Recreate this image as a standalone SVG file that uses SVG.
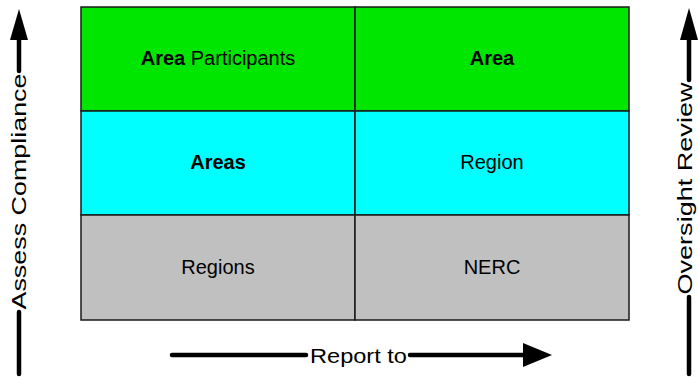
<svg xmlns="http://www.w3.org/2000/svg" width="698" height="377" viewBox="0 0 698 377">
<style>
.cell{stroke:#1a1a1a;stroke-width:1.5}
.t{font-family:"Liberation Sans",Arial,sans-serif;font-size:20px;fill:#000;text-anchor:middle}
.b{font-weight:bold}
.lbl{font-family:"Liberation Sans",Arial,sans-serif;font-size:21px;fill:#000;text-anchor:middle}
.ln{stroke:#000;stroke-width:4.5;stroke-linecap:round;fill:none}
.hd{fill:#000}
</style>
<rect width="698" height="377" fill="#fff"/>
<g id="cell-area-participants"><rect class="cell" x="81" y="7" width="274" height="104" fill="#00E600"/><text class="t" x="218" y="65"><tspan class="b">Area</tspan> Participants</text></g>
<g id="cell-area"><rect class="cell" x="355" y="7" width="274" height="104" fill="#00E600"/><text class="t b" x="492" y="65">Area</text></g>
<g id="cell-areas"><rect class="cell" x="81" y="111" width="274" height="104" fill="#00FFFF"/><text class="t b" x="218" y="169">Areas</text></g>
<g id="cell-region"><rect class="cell" x="355" y="111" width="274" height="104" fill="#00FFFF"/><text class="t" x="492" y="169">Region</text></g>
<g id="cell-regions"><rect class="cell" x="81" y="215" width="274" height="105" fill="#C0C0C0"/><text class="t" x="218" y="274">Regions</text></g>
<g id="cell-nerc"><rect class="cell" x="355" y="215" width="274" height="105" fill="#C0C0C0"/><text class="t" x="492" y="274">NERC</text></g>
<g id="connectors">
<g id="assess-compliance">
<line class="ln" x1="19" y1="374" x2="19" y2="312"/>
<line class="ln" x1="19" y1="71" x2="19" y2="38"/>
<polygon class="hd" points="19,9 10,40 28,40"/>
<text class="lbl" transform="translate(26,191.5) rotate(-90)" textLength="236" lengthAdjust="spacingAndGlyphs">Assess Compliance</text>
</g>
<g id="oversight-review">
<line class="ln" x1="689" y1="374" x2="689" y2="297"/>
<line class="ln" x1="689" y1="80" x2="689" y2="38"/>
<polygon class="hd" points="689,8 680,40 698,40"/>
<text class="lbl" transform="translate(692,188.5) rotate(-90)" textLength="212" lengthAdjust="spacingAndGlyphs">Oversight Review</text>
</g>
<g id="report-to">
<line class="ln" x1="172" y1="355" x2="306" y2="355"/>
<line class="ln" x1="410" y1="355" x2="525" y2="355"/>
<polygon class="hd" points="552,355 523,343 523,367"/>
<text class="lbl" x="358.5" y="363" textLength="97" lengthAdjust="spacingAndGlyphs">Report to</text>
</g>
</g>
</svg>
